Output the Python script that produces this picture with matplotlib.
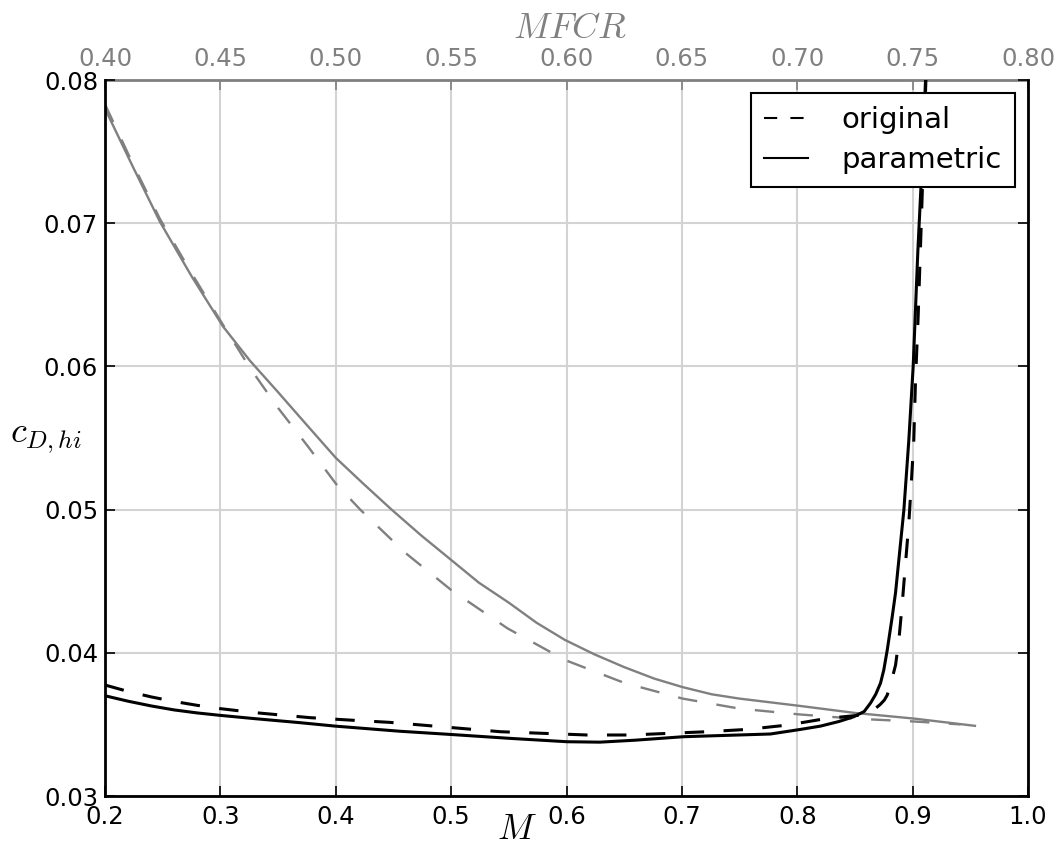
import matplotlib
matplotlib.use("Agg")
import matplotlib.pyplot as plt
from matplotlib.lines import Line2D
from matplotlib.ticker import FormatStrFormatter, MultipleLocator

plt.rcParams["mathtext.fontset"] = "cm"
plt.rcParams["font.family"] = "DejaVu Sans"
plt.rcParams["lines.scale_dashes"] = False

# drag coefficient vs Mach number (bottom axis, black)
m_orig = [0.2, 0.22, 0.24, 0.26, 0.28, 0.30, 0.33, 0.3778, 0.4125, 0.4472, 0.5426,
          0.6178, 0.6553, 0.6871, 0.7219, 0.7566, 0.7912, 0.8259, 0.8548, 0.8661, 0.872,
          0.8755, 0.878, 0.8823, 0.8852, 0.8881, 0.891, 0.8967, 0.899, 0.901, 0.9025,
          0.9048, 0.9075, 0.9095, 0.9115]
cd_orig = [0.03775, 0.03730, 0.03692, 0.03660, 0.03633, 0.03610, 0.03582, 0.03547, 0.0353, 0.03514,
           0.03449, 0.03426, 0.03426, 0.03437, 0.03449, 0.03465, 0.03495, 0.03542, 0.03565, 0.0360,
           0.03640, 0.03670, 0.03705, 0.03823, 0.03914, 0.04089, 0.04345, 0.04905, 0.05205, 0.05484,
           0.0590, 0.0635, 0.0700, 0.0750, 0.0800]

m_param = [0.2, 0.22, 0.24, 0.26, 0.28, 0.30, 0.33, 0.3691, 0.3995, 0.4559, 0.4992,
           0.5500, 0.6004, 0.629, 0.6600, 0.7013, 0.7768, 0.8028, 0.8201, 0.8360, 0.8488,
           0.8580, 0.8635, 0.868, 0.8722, 0.875, 0.878, 0.8823, 0.8852, 0.8924, 0.8967,
           0.9005, 0.9045, 0.9078, 0.9112]
cd_param = [0.0370, 0.03662, 0.03629, 0.03601, 0.03580, 0.03563, 0.03540, 0.03512, 0.03488, 0.03452,
            0.0343, 0.03403, 0.03379, 0.03376, 0.03390, 0.03414, 0.03433, 0.03465, 0.03488, 0.03520,
            0.03553, 0.03590, 0.03649, 0.03710, 0.03789, 0.03880, 0.04019, 0.04251, 0.04420, 0.04996,
            0.05484, 0.06003, 0.0680, 0.0735, 0.0800]

# drag coefficient vs MFCR (top axis, gray)
mfcr_orig = [0.400, 0.4119, 0.4238, 0.4368, 0.4500, 0.4628, 0.475, 0.4880, 0.5001, 0.5106,
             0.5300, 0.5499, 0.5745, 0.5993, 0.625, 0.6504, 0.675, 0.7007, 0.725, 0.7510,
             0.7707]
cd_mfcr_orig = [0.0783, 0.0742, 0.0703, 0.0667, 0.0632, 0.0599, 0.0571, 0.0544, 0.0518, 0.0500,
                0.0470, 0.0444, 0.0417, 0.0395, 0.0379, 0.0368, 0.0361, 0.0357, 0.0354, 0.0352,
                0.0350]

mfcr_param = [0.400, 0.4119, 0.4238, 0.4375, 0.4511, 0.4628, 0.475, 0.4875, 0.5001, 0.5120,
              0.5242, 0.5370, 0.5499, 0.5620, 0.575, 0.5870, 0.5993, 0.6120, 0.625, 0.6380,
              0.6504, 0.6630, 0.675, 0.7007, 0.725, 0.7510, 0.7770]
cd_mfcr_param = [0.0780, 0.0740, 0.0701, 0.0663, 0.0628, 0.0604, 0.0582, 0.0559, 0.0536, 0.0518,
                 0.0500, 0.0482, 0.0465, 0.0449, 0.0435, 0.0421, 0.0409, 0.0399, 0.0390, 0.0382,
                 0.0376, 0.0371, 0.0368, 0.0363, 0.0358, 0.0354, 0.0349]

fs = 17.5
fig = plt.figure(figsize=(10.62, 8.46), dpi=100)
ax = fig.add_axes([105 / 1062, 50 / 846, 923 / 1062, 716 / 846])
ax2 = ax.twiny()

# gray MFCR curves go on the lower twin, black Mach curves on top
ax.set_zorder(ax2.get_zorder() + 1)
ax.patch.set_visible(False)
ax2.patch.set_visible(True)
ax2.patch.set_facecolor("white")

ax2.plot(mfcr_orig, cd_mfcr_orig, color="gray", lw=1.7, ls=(0, (14, 14)))
ax2.plot(mfcr_param, cd_mfcr_param, color="gray", lw=1.7)

ax.plot(m_orig, cd_orig, color="black", lw=2.2, ls=(0, (14, 14)))
ax.plot(m_param, cd_param, color="black", lw=2.2)

ax.set_xlim(0.2, 1.0)
ax.set_ylim(0.03, 0.08)
ax2.set_xlim(0.40, 0.80)

ax.xaxis.set_major_locator(MultipleLocator(0.1))
ax.yaxis.set_major_locator(MultipleLocator(0.01))
ax2.xaxis.set_major_locator(MultipleLocator(0.05))
ax.xaxis.set_major_formatter(FormatStrFormatter("%.1f"))
ax.yaxis.set_major_formatter(FormatStrFormatter("%.2f"))
ax2.xaxis.set_major_formatter(FormatStrFormatter("%.2f"))

# grid lives on the lower axes so it sits behind every curve
ax2.yaxis.set_visible(True)
ax2.tick_params(axis="y", left=False, right=False, labelleft=False, labelright=False)
ax2.grid(True, color="#d3d3d3", lw=1.5, ls="-")
ax2.set_axisbelow(True)

ax.tick_params(axis="both", direction="in", length=7, width=1.2, labelsize=fs,
               top=False, right=True, colors="black")
ax.tick_params(axis="x", pad=6.8)
ax.tick_params(axis="y", pad=5.0)
ax2.tick_params(axis="x", direction="in", length=7, width=1.2, labelsize=fs,
                colors="gray", pad=6.5)

for side in ["left", "right", "bottom"]:
    ax.spines[side].set_linewidth(2)
    ax.spines[side].set_color("black")
ax.spines["top"].set_visible(False)
ax2.spines["top"].set_color("gray")
ax2.spines["top"].set_linewidth(2)

ax.set_xlabel("$M$", fontsize=26)
ax.xaxis.set_label_coords(0.446, -0.022)
ax2.set_xlabel("$MFCR$", fontsize=26, color="gray")
ax2.xaxis.set_label_coords(0.503, 1.058)
ax.set_ylabel("$c_{D,hi}$", fontsize=26, rotation=0, ha="center", va="center")
ax.yaxis.set_label_coords(-0.064, 0.5)

handles = [Line2D([], [], color="black", lw=1.5, ls=(0, (9.5, 9.5))),
           Line2D([], [], color="black", lw=1.5)]
leg = ax.legend(handles, ["original", "parametric"], loc="upper right", fontsize=21,
                fancybox=False, framealpha=1, edgecolor="black", borderpad=0.45,
                handlelength=1.5, handletextpad=1.15, borderaxespad=0.45, labelspacing=0.4)
leg.get_frame().set_linewidth(1.5)

fig.savefig("out.png", dpi=100)
